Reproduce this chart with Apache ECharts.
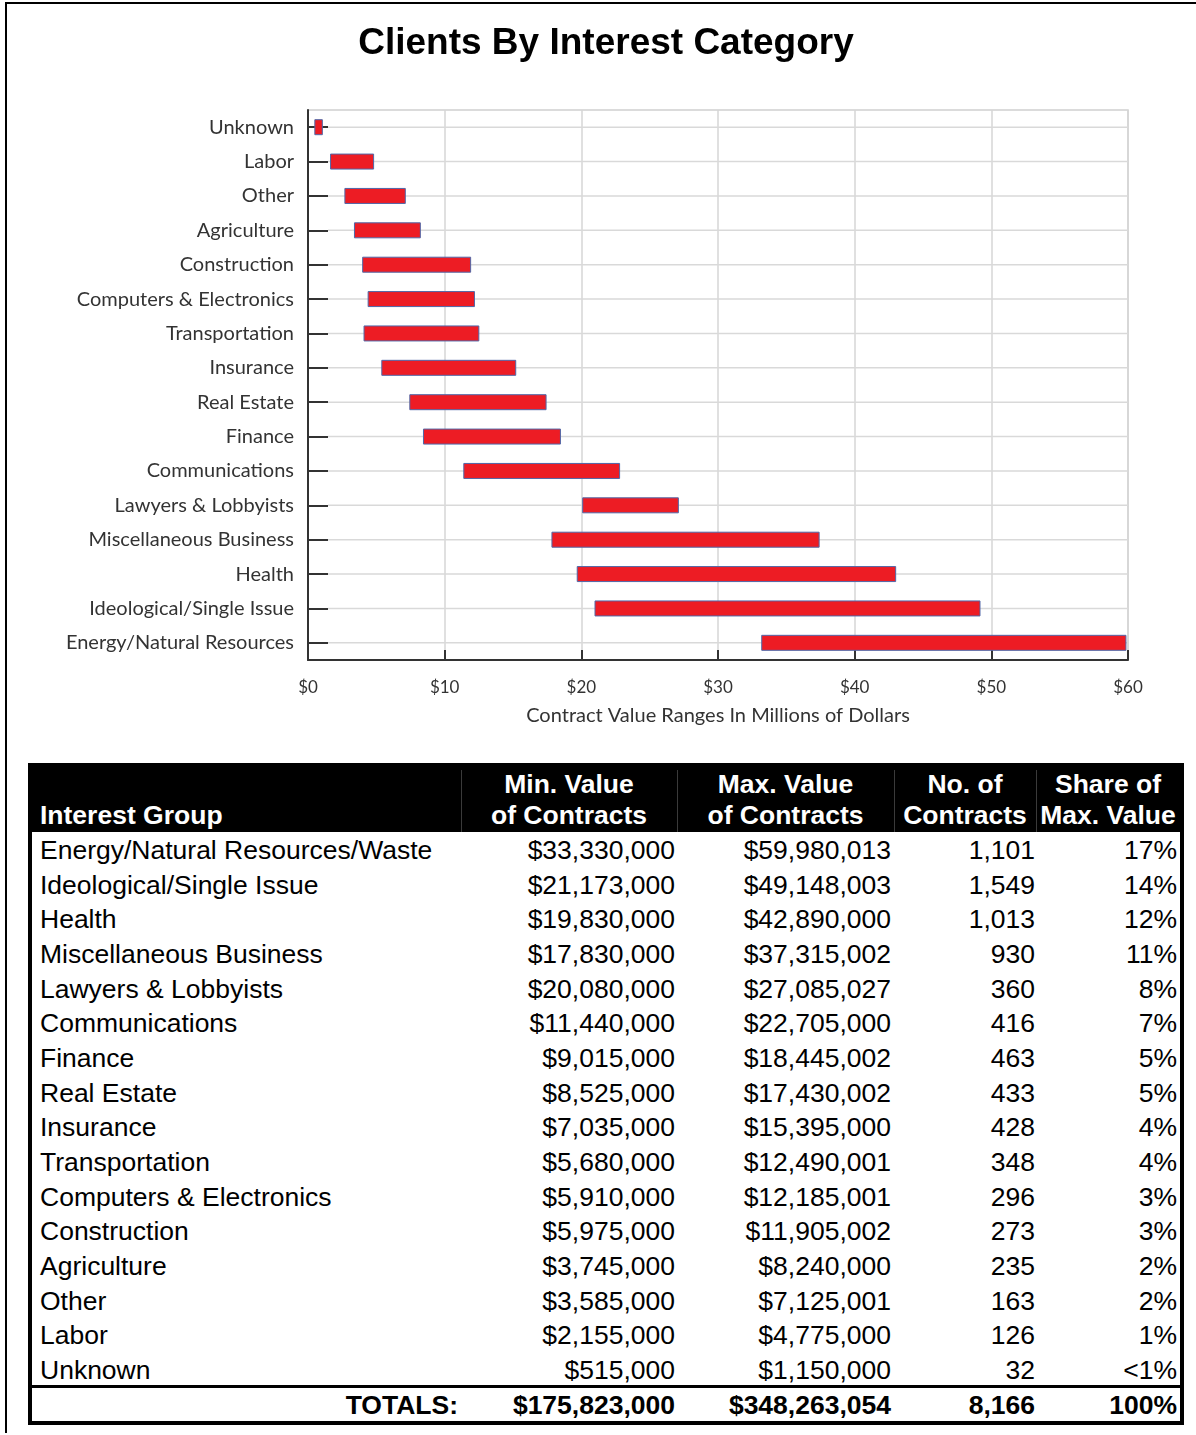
<!DOCTYPE html>
<html><head><meta charset="utf-8">
<script src="https://cdn.jsdelivr.net/npm/echarts@6/dist/echarts.min.js"></script>
<style>
html,body{margin:0;padding:0;background:#fff;}
body{width:1196px;height:1435px;position:relative;overflow:hidden;font-family:"Liberation Sans",Arial,sans-serif;}
#chart{position:absolute;left:0;top:0;width:1196px;height:750px;}
.abs{position:absolute;}
.cell{position:absolute;white-space:nowrap;font-size:26.5px;color:#000;}
.hcell{position:absolute;white-space:nowrap;font-size:26.5px;color:#fff;font-weight:bold;line-height:31px;}
</style>
</head><body>
<div id="chart"></div>
<div class="abs" style="left:5px;top:2px;width:1191px;height:2px;background:#000"></div>
<div class="abs" style="left:5px;top:2px;width:2px;height:1431px;background:#000"></div>
<div id="tbl"></div>
<script>
// ---------- chart data ----------
const categories = ["Unknown","Labor","Other","Agriculture","Construction","Computers & Electronics","Transportation","Insurance","Real Estate","Finance","Communications","Lawyers & Lobbyists","Miscellaneous Business","Health","Ideological/Single Issue","Energy/Natural Resources"];
const rangeMin = [0.5, 1.65, 2.7, 3.4, 4.0, 4.4, 4.1, 5.4, 7.45, 8.45, 11.4, 20.1, 17.85, 19.7, 21.0, 33.2];
const rangeMax = [1.05, 4.8, 7.12, 8.22, 11.9, 12.18, 12.5, 15.2, 17.42, 18.47, 22.8, 27.1, 37.4, 43.0, 49.17, 59.85];
const xTicks = [0, 10, 20, 30, 40, 50, 60];

// ---------- table data ----------
const tableGroups = ["Energy/Natural Resources/Waste","Ideological/Single Issue","Health","Miscellaneous Business","Lawyers & Lobbyists","Communications","Finance","Real Estate","Insurance","Transportation","Computers & Electronics","Construction","Agriculture","Other","Labor","Unknown"];
const tableMinValue = [33330000,21173000,19830000,17830000,20080000,11440000,9015000,8525000,7035000,5680000,5910000,5975000,3745000,3585000,2155000,515000];
const tableMaxValue = [59980013,49148003,42890000,37315002,27085027,22705000,18445002,17430002,15395000,12490001,12185001,11905002,8240000,7125001,4775000,1150000];
const tableContracts = [1101,1549,1013,930,360,416,463,433,428,348,296,273,235,163,126,32];
const tableShare = ["17%","14%","12%","11%","8%","7%","5%","5%","4%","4%","3%","3%","2%","2%","1%","<1%"];
const totals = {label:"TOTALS:", min:175823000, max:348263054, contracts:8166, share:"100%"};
const headers = [["Interest Group"],["Min. Value","of Contracts"],["Max. Value","of Contracts"],["No. of","Contracts"],["Share of","Max. Value"]];

// ---------- chart ----------
const chart = echarts.init(document.getElementById('chart'), null, {renderer:'canvas'});
const labelFont = 'Lato';
chart.setOption({
  animation:false,
  title:{text:'Clients By Interest Category', left:606, top:25, textAlign:'center', padding:0,
    textStyle:{fontFamily:'Liberation Sans', fontWeight:'bold', fontSize:37, color:'#000'}},
  grid:{left:308, right:68, top:110, height:550, show:true, borderColor:'#d0d0d0', borderWidth:1.5, containLabel:false},
  xAxis:{type:'value', min:0, max:60, interval:10,
    axisLine:{show:true, lineStyle:{color:'#333', width:2}},
    axisTick:{show:true, inside:true, length:10, lineStyle:{color:'#333', width:2}},
    splitLine:{show:true, lineStyle:{color:'#d6d6d6', width:1.5}},
    axisLabel:{formatter: v => xTicks.includes(v) ? '$' + v : '', fontFamily:labelFont, fontSize:17, color:'#333', margin:19},
    name:'Contract Value Ranges In Millions of Dollars', nameLocation:'middle', nameGap:46,
    nameTextStyle:{fontFamily:labelFont, fontSize:20, color:'#333'}},
  yAxis:{type:'category', data:categories, inverse:true,
    axisLine:{show:true, lineStyle:{color:'#333', width:2}},
    axisTick:{show:true, inside:true, alignWithLabel:true, length:20, lineStyle:{color:'#333', width:2}},
    splitLine:{show:false},
    axisLabel:{fontFamily:labelFont, fontSize:20, color:'#333', margin:14}},
  series:[{
    type:'custom', name:'gridlines', silent:true, z:1,
    data: categories.map((c,i)=>[0, i]),
    encode:{x:0, y:1},
    renderItem:(params, api)=>{
      const p = api.coord([api.value(0), api.value(1)]);
      const cs = params.coordSys;
      return {type:'line', shape:{x1:cs.x+20, y1:p[1], x2:cs.x+cs.width, y2:p[1]},
        style:{stroke:'#d9d9d9', lineWidth:1.5}};
    }
  },{
    type:'custom', name:'range', z:3,
    data: categories.map((c,i)=>[rangeMin[i], rangeMax[i], i]),
    encode:{x:[0,1], y:2},
    renderItem:(params, api)=>{
      const a = api.coord([api.value(0), api.value(2)]);
      const b = api.coord([api.value(1), api.value(2)]);
      const h = 15;
      return {type:'rect', shape:{x:a[0], y:a[1]-h/2, width:b[0]-a[0], height:h},
        style:{fill:'#ed1c24', stroke:'#5068a8', lineWidth:1}};
    }
  }]
});

// ---------- table ----------
const tbl = document.getElementById('tbl');
const fmt = n => n.toLocaleString('en-US');
const cols = [{x0:32,x1:461,align:'left'},{x0:461,x1:677,align:'right'},{x0:677,x1:894,align:'right'},{x0:894,x1:1036,align:'right'},{x0:1036,x1:1180,align:'right'}];
const padR = [0,2,3,1,3];
function add(html){ tbl.insertAdjacentHTML('beforeend', html); }
add(`<div class="abs" style="left:28px;top:763px;width:1156px;height:69px;background:#000"></div>`);
[461, 677, 894, 1036].forEach(x=>add(`<div class="abs" style="left:${x}px;top:770px;width:1px;height:62px;background:#3a3a3a"></div>`));
headers.forEach((lines,ci)=>{
  const c = cols[ci];
  const h = lines.length*31;
  const style = ci===0 ? `left:40px;top:${831-h}px;text-align:left` :
    `left:${c.x0}px;width:${c.x1-c.x0}px;top:${831-h}px;text-align:center`;
  add(`<div class="hcell" style="${style}">${lines.join('<br>')}</div>`);
});
const rowH = 34.67;
tableGroups.forEach((g,i)=>{
  const cy = 850 + i*rowH;
  const vals = [g, '$'+fmt(tableMinValue[i]), '$'+fmt(tableMaxValue[i]), fmt(tableContracts[i]), tableShare[i]];
  vals.forEach((v,ci)=>{
    const c = cols[ci];
    const style = ci===0 ? `left:40px;top:${cy-17}px;line-height:34px` :
      `left:${c.x0}px;width:${c.x1-c.x0-padR[ci]}px;top:${cy-17}px;line-height:34px;text-align:right`;
    add(`<div class="cell" style="${style}">${v.replace('<','&lt;')}</div>`);
  });
});
add(`<div class="abs" style="left:28px;top:1385px;width:1156px;height:3px;background:#000"></div>`);
const tv = [totals.label, '$'+fmt(totals.min), '$'+fmt(totals.max), fmt(totals.contracts), totals.share];
tv.forEach((v,ci)=>{
  const cy = 1405;
  let style;
  if(ci===0) style = `left:32px;width:426px;top:${cy-17}px;line-height:34px;text-align:right;font-weight:bold`;
  else { const c = cols[ci]; style = `left:${c.x0}px;width:${c.x1-c.x0-padR[ci]}px;top:${cy-17}px;line-height:34px;text-align:right;font-weight:bold`; }
  add(`<div class="cell" style="${style}">${v}</div>`);
});
add(`<div class="abs" style="left:28px;top:763px;width:1156px;height:662px;border:4px solid #000;box-sizing:border-box"></div>`);
</script>
</body></html>
